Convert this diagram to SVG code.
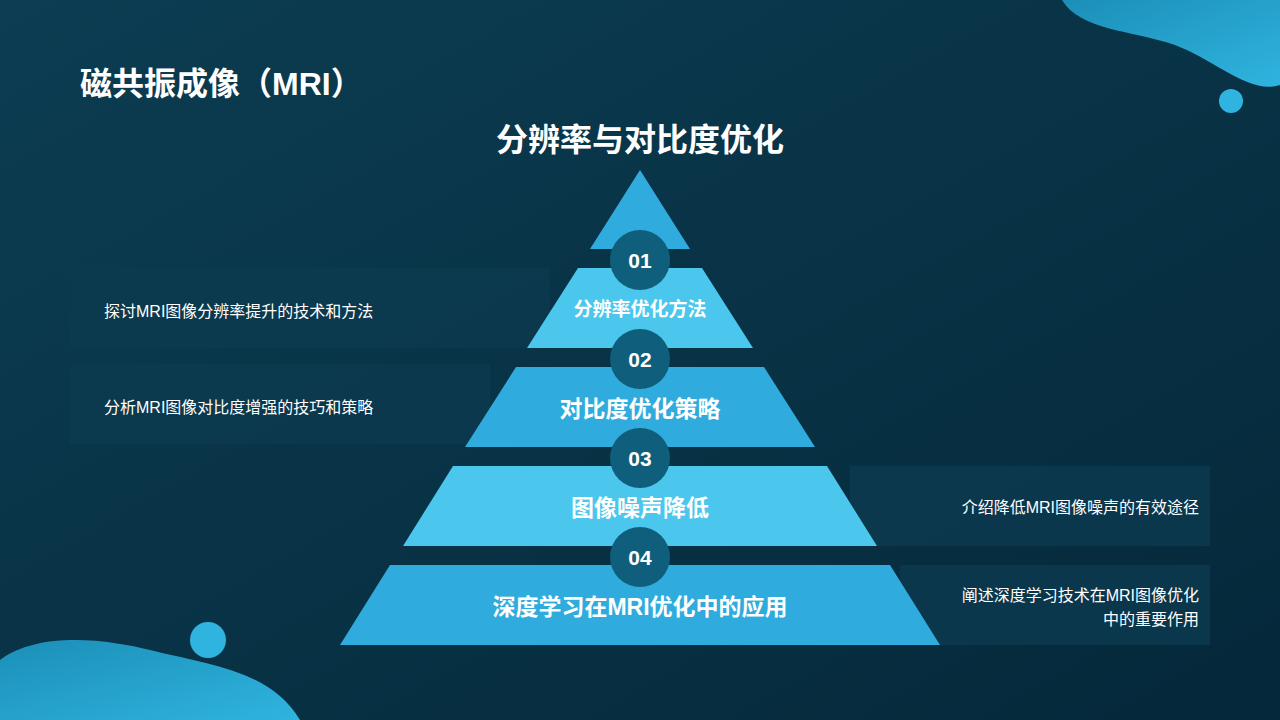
<svg xmlns="http://www.w3.org/2000/svg" width="1280" height="720" viewBox="0 0 1280 720">
<defs>
<linearGradient id="bg" x1="0" y1="0" x2="1" y2="1"><stop offset="0" stop-color="#0c3d52"/><stop offset="1" stop-color="#05283a"/></linearGradient>
<linearGradient id="blob" x1="0" y1="0" x2="1" y2="1"><stop offset="0" stop-color="#1b8fb8"/><stop offset="1" stop-color="#2fb4df"/></linearGradient>
<style>
.lt{fill:#4bc6ec}.dk{fill:#30abdd}
.num{fill:#0f5e7c}
.nt{font-family:"Liberation Sans","Noto Sans CJK SC",sans-serif;font-weight:bold;fill:#fff;text-anchor:middle}
.pn{fill:#0c3a4f;opacity:0.85}
.st{font-family:"Liberation Sans","Noto Sans CJK SC",sans-serif;font-size:16px;fill:#fff}
</style>
</defs>
<rect width="1280" height="720" fill="url(#bg)"/>
<path d="M1062 0 L1280 0 L1280 85 C1250 95 1215 60 1175 45 C1130 30 1080 30 1062 0 Z" fill="url(#blob)"/>
<circle cx="1231" cy="101" r="12" fill="#2fb4df"/>
<path d="M0 660 C40 630 110 640 150 650 C210 665 270 670 300 720 L0 720 Z" fill="url(#blob)"/>
<circle cx="208" cy="640" r="18" fill="#2fb4df"/>
<text x="80" y="95" font-family="Liberation Sans,Noto Sans CJK SC,sans-serif" font-size="32" font-weight="bold" fill="#fff">磁共振成像（MRI）</text>
<text x="640" y="151" class="nt" font-size="32">分辨率与对比度优化</text>
<g id="panels">
<rect class="pn" x="70" y="268" width="480" height="80"/>
<rect class="pn" x="70" y="364" width="420" height="80"/>
<rect class="pn" x="850" y="466" width="360" height="80"/>
<rect class="pn" x="900" y="565" width="310" height="80"/>
</g>
<g id="top"><polygon class="dk" points="640,170 690,249 590,249"/></g>
<g id="n1"><polygon class="lt" points="578,268 702,268 753,348 527,348"/><text class="nt" x="640" y="316" font-size="19">分辨率优化方法</text><text class="st" x="104" y="317">探讨MRI图像分辨率提升的技术和方法</text></g>
<g id="n2"><polygon class="dk" points="516,367 764,367 815,447 465,447"/><text class="nt" x="640" y="417" font-size="23">对比度优化策略</text><text class="st" x="104" y="413">分析MRI图像对比度增强的技巧和策略</text></g>
<g id="n3"><polygon class="lt" points="453,466 827,466 877,546 403,546"/><text class="nt" x="640" y="516" font-size="23">图像噪声降低</text><text class="st" x="1199" y="513" text-anchor="end">介绍降低MRI图像噪声的有效途径</text></g>
<g id="n4"><polygon class="dk" points="390,565 890,565 940,645 340,645"/><text class="nt" x="640" y="615" font-size="23">深度学习在MRI优化中的应用</text><text class="st" x="1199" y="601" text-anchor="end">阐述深度学习技术在MRI图像优化</text><text class="st" x="1199" y="625" text-anchor="end">中的重要作用</text></g>
<g id="nums">
<circle class="num" cx="640" cy="260" r="30"/><text class="nt" x="640" y="268" font-size="21">01</text>
<circle class="num" cx="640" cy="359" r="30"/><text class="nt" x="640" y="367" font-size="21">02</text>
<circle class="num" cx="640" cy="458" r="30"/><text class="nt" x="640" y="466" font-size="21">03</text>
<circle class="num" cx="640" cy="557" r="30"/><text class="nt" x="640" y="565" font-size="21">04</text>
</g>
</svg>
